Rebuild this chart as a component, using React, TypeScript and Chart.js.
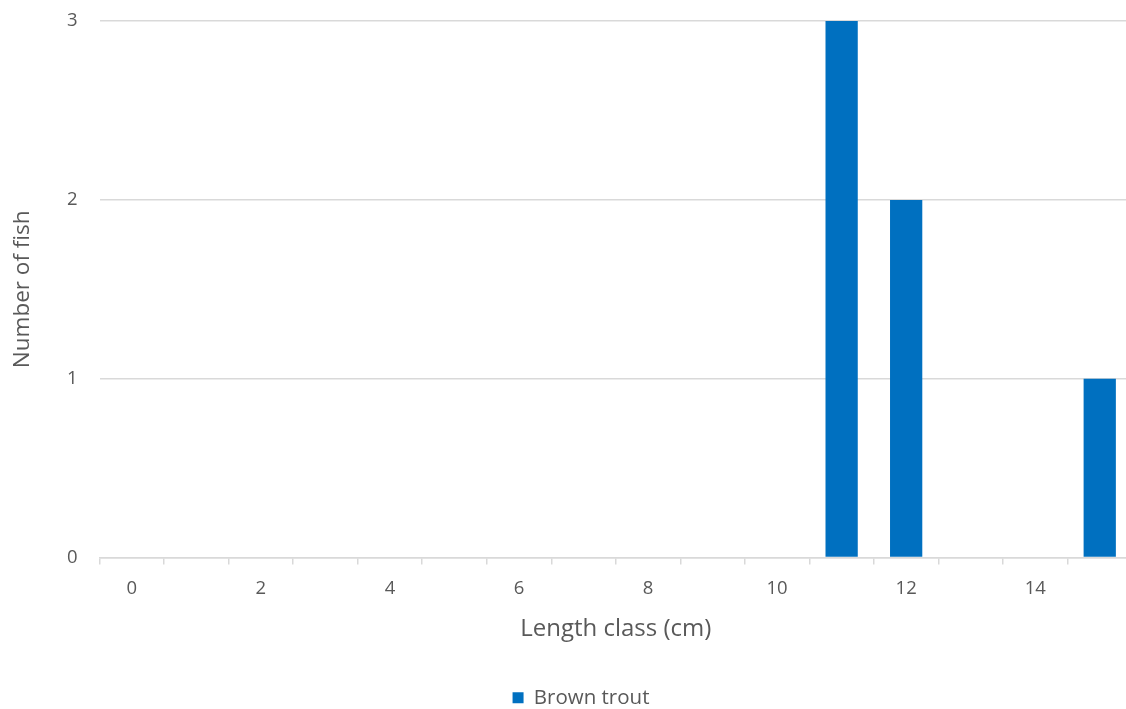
import React, { useEffect, useRef } from "react";
import { Chart, registerables } from "chart.js";

Chart.register(...registerables);

const categories = ["0", "1", "2", "3", "4", "5", "6", "7", "8", "9", "10", "11", "12", "13", "14", "15"];
const brownTrout = [0, 0, 0, 0, 0, 0, 0, 0, 0, 0, 0, 3, 2, 0, 0, 1];
const seriesName = "Brown trout";
const xTitle = "Length class (cm)";
const yTitle = "Number of fish";

const TEXT = "#595959";
const GRID = "#d9d9d9";
const FONT = "'Open Sans', Lato, sans-serif";

const legendShift = {
  id: "legendShift",
  afterLayout(chart: any) {
    const lg = chart.legend;
    if (lg) {
      lg.left += 11;
      lg.right += 11;
    }
  },
};

export default function App() {
  const ref = useRef<HTMLCanvasElement | null>(null);
  useEffect(() => {
    if (!ref.current) return;
    const chart = new Chart(ref.current, {
      type: "bar",
      data: {
        labels: categories,
        datasets: [
          {
            label: seriesName,
            data: brownTrout,
            backgroundColor: "#0070C0",
            borderWidth: 0,
            barPercentage: 0.5,
            categoryPercentage: 1,
          },
        ],
      },
      plugins: [legendShift],
      options: {
        animation: false,
        responsive: true,
        maintainAspectRatio: false,
        layout: { padding: { top: 0, right: 30, left: 8, bottom: -9 } },
        plugins: {
          legend: {
            position: "bottom",
            labels: {
              boxWidth: 11,
              boxHeight: 11,
              color: TEXT,
              font: { family: FONT, size: 20.5 },
              padding: 10,
            },
          },
          tooltip: { enabled: false },
        },
        scales: {
          x: {
            grid: {
              offset: true,
              drawOnChartArea: false,
              drawTicks: true,
              tickLength: 7,
              color: GRID,
              lineWidth: 1.5,
            },
            border: { display: true, color: GRID, width: 1.5 },
            ticks: {
              color: TEXT,
              font: { family: FONT, size: 18.5 },
              autoSkip: false,
              maxRotation: 0,
              padding: 13,
              callback: (_v: any, i: number) => (i % 2 === 0 ? categories[i] : ""),
            },
            title: {
              display: true,
              text: xTitle,
              color: TEXT,
              font: { family: FONT, size: 24 },
              padding: { top: 2, bottom: 34 },
            },
          },
          y: {
            min: 0,
            max: 3,
            grid: { color: GRID, lineWidth: 1.5, drawTicks: true, tickLength: 12, tickColor: "rgba(0,0,0,0)" },
            border: { display: false },
            ticks: {
              stepSize: 1,
              color: TEXT,
              font: { family: FONT, size: 18.5 },
              padding: 10,
            },
            title: {
              display: true,
              text: yTitle,
              color: TEXT,
              font: { family: FONT, size: 22.5 },
              padding: { top: 1, bottom: 21 },
            },
          },
        },
      },
    });
    return () => chart.destroy();
  }, []);
  return (
    <div style={{ position: "fixed", left: 0, top: 0, width: 1126, height: 709, overflow: "hidden", background: "#fff" }}>
      <div style={{ position: "absolute", left: 0, top: 0, width: 1162, height: 709 }}>
        <canvas ref={ref} />
      </div>
    </div>
  );
}
